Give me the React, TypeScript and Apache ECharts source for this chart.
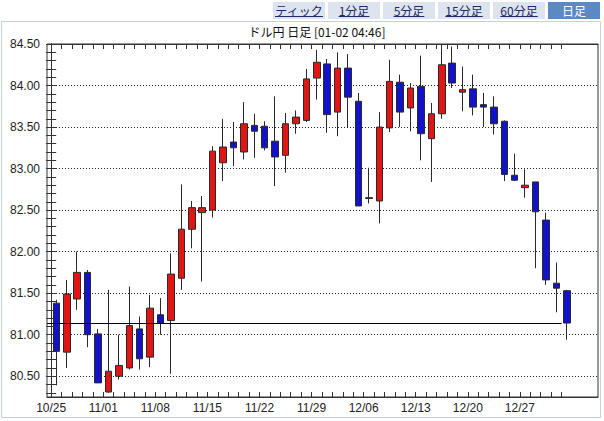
import React, { useEffect, useRef } from 'react';
import * as echarts from 'echarts';

const dates = ['10/25','10/26','10/27','10/28','10/29','11/01','11/02','11/03','11/04','11/05','11/08','11/09','11/10','11/11','11/12','11/15','11/16','11/17','11/18','11/19','11/22','11/23','11/24','11/25','11/26','11/29','11/30','12/01','12/02','12/03','12/06','12/07','12/08','12/09','12/10','12/13','12/14','12/15','12/16','12/17','12/20','12/21','12/22','12/23','12/24','12/27','12/28','12/29','12/30','12/31'];
const opens = [81.38,80.79,81.43,81.75,81.01,80.31,80.50,80.60,81.07,80.73,81.24,81.17,81.68,82.27,82.47,82.50,83.07,83.32,83.20,83.52,83.51,83.33,83.16,83.54,83.58,84.09,84.26,83.68,84.21,83.81,82.64,82.61,83.49,84.04,83.73,83.99,83.36,83.66,84.27,83.92,83.96,83.77,83.74,83.57,82.92,82.77,82.84,82.38,81.62,81.53];
const closes = [80.80,81.49,81.75,81.00,80.42,80.56,80.63,81.11,80.71,81.32,81.14,81.73,82.27,82.53,82.53,83.21,83.26,83.25,83.54,83.45,83.25,83.14,83.54,83.62,84.08,84.28,83.65,84.21,83.86,82.55,82.65,83.50,84.05,83.68,83.97,83.42,83.66,84.25,84.03,83.95,83.74,83.74,83.54,82.93,82.86,82.80,82.48,81.66,81.56,81.14];
const lows = [80.39,80.60,81.30,80.85,80.42,80.30,80.46,80.58,80.58,80.61,81.00,80.53,81.54,82.04,81.64,82.41,82.85,83.03,83.11,83.13,83.22,82.79,82.95,83.42,83.56,83.83,83.43,83.39,83.50,82.55,82.58,82.34,83.44,83.50,83.45,83.10,82.84,83.60,83.97,83.69,83.64,83.50,83.41,82.85,82.85,82.65,81.80,81.60,81.27,80.94];
const highs = [81.42,81.66,82.00,81.78,81.07,81.54,81.00,81.58,81.22,81.48,81.44,81.98,82.81,82.61,82.67,83.27,83.60,83.56,83.80,83.66,83.57,83.87,83.67,83.70,84.20,84.43,84.32,84.40,84.38,83.91,83.01,83.68,84.31,84.13,84.03,84.36,83.79,84.50,84.47,84.23,84.13,83.91,83.87,83.58,83.18,82.99,82.84,82.47,81.87,81.54];

const yLabelValues = [80.5, 81.0, 81.5, 82.0, 82.5, 83.0, 83.5, 84.0, 84.5];
const yMin = 80.25;
const yMax = 84.5;
const minorPerMajor = 5;
const xMin = -0.4;
const xMax = 52.5;
const labelEvery = 5;

const tabs = ['ティック', '1分足', '5分足', '15分足', '60分足', '日足'];
const selectedTab = 5;
const title = 'ドル円 日足 [01-02 04:46]';

const JP = '"Noto Sans CJK JP", sans-serif';
const LAT = '"Liberation Sans", Arial, sans-serif';

export default function App() {
  const ref = useRef<HTMLDivElement>(null);

  useEffect(() => {
    document.body.style.margin = '0';
    const chart = echarts.init(ref.current!, null, { renderer: 'svg' });

    const step = (yLabelValues[1] - yLabelValues[0]) / minorPerMajor;
    const minorTicks: number[] = [];
    for (let k = Math.ceil(yMin / step - 1e-9); k * step <= yMax + 1e-9; k++) {
      minorTicks.push(Math.round(k * step * 100) / 100);
    }
    const gridVals = yLabelValues.filter((v) => v < yMax);
    const xTicks = dates.map((_, i) => i);
    const xLabels = xTicks.filter((i) => i % labelEvery === 0);
    const candleData = dates.map((_, i) => [i + 0.5, opens[i], closes[i], lows[i], highs[i]]);
    const last = closes[closes.length - 1];
    const lastIdx = closes.length - 1;

    const canvas = document.createElement('canvas');
    const ctx = canvas.getContext('2d')!;
    ctx.font = '12px "Noto Sans CJK JP"';

    const tabX0 = 273, tabW = 52, tabGap = 3, tabY = 2, tabH = 17;
    const tabGraphics: any[] = [];
    tabs.forEach((t, i) => {
      const x = tabX0 + i * (tabW + tabGap);
      const sel = i === selectedTab;
      tabGraphics.push({
        type: 'rect', shape: { x, y: tabY, width: tabW, height: tabH },
        style: { fill: sel ? '#5b89c4' : '#dde4ed' }, silent: true,
      });
      tabGraphics.push({
        type: 'text', x: x + tabW / 2, y: tabY + tabH / 2,
        style: { text: t, fill: sel ? '#ffffff' : '#1b2b6b', font: `12px ${JP}`, align: 'center', verticalAlign: 'middle' },
        silent: true,
      });
      if (!sel) {
        const w = ctx.measureText(t).width;
        tabGraphics.push({
          type: 'line', shape: { x1: x + tabW / 2 - w / 2, y1: 16.5, x2: x + tabW / 2 + w / 2, y2: 16.5 },
          style: { stroke: '#1b2b6b', lineWidth: 1 }, silent: true,
        });
      }
    });

    const axisColor = '#333';
    const option: any = {
      animation: false,
      backgroundColor: '#ffffff',
      textStyle: { fontFamily: LAT },
      graphic: [
        {
          type: 'rect', shape: { x: 1.5, y: 21.5, width: 599, height: 396 },
          style: { fill: 'none', stroke: '#c5d0dc', lineWidth: 1 }, silent: true, z: -1,
        },
        ...tabGraphics,
        {
          type: 'text', x: 317, y: 31,
          style: { text: title, fill: '#111', font: `12px ${JP}`, align: 'center', verticalAlign: 'middle' },
          silent: true,
        },
      ],
      grid: { left: 47, right: 6, top: 44, bottom: 24, show: true, borderColor: axisColor, borderWidth: 1, backgroundColor: '#fff' },
      xAxis: [
        {
          type: 'value', position: 'bottom', min: xMin, max: xMax,
          axisLine: { show: true, lineStyle: { color: axisColor } },
          axisTick: { show: true, inside: true, length: 5, customValues: xTicks, lineStyle: { color: axisColor } },
          axisLabel: { customValues: xLabels, formatter: (v: number) => dates[Math.round(v)], color: '#222', fontSize: 12, margin: 5, fontFamily: LAT },
          splitLine: { show: false },
        },
        {
          type: 'value', position: 'top', min: xMin, max: xMax,
          axisLine: { show: true, lineStyle: { color: axisColor } },
          axisTick: { show: true, inside: true, length: 5, customValues: xTicks, lineStyle: { color: axisColor } },
          axisLabel: { show: false },
          splitLine: { show: false },
        },
      ],
      yAxis: [
        {
          type: 'value', position: 'left', min: yMin, max: yMax,
          axisLine: { show: true, lineStyle: { color: axisColor } },
          axisTick: { show: true, inside: true, length: 5, customValues: minorTicks, lineStyle: { color: axisColor } },
          axisLabel: { customValues: yLabelValues, formatter: (v: number) => v.toFixed(2), color: '#222', fontSize: 12, margin: 7, fontFamily: LAT },
          splitLine: { show: false },
        },
        {
          type: 'value', position: 'right', min: yMin, max: yMax,
          axisLine: { show: true, lineStyle: { color: axisColor } },
          axisTick: { show: true, inside: true, length: 5, customValues: minorTicks, lineStyle: { color: axisColor } },
          axisLabel: { show: false },
          splitLine: { show: false },
        },
        {
          type: 'value', position: 'left', min: yMin, max: yMax,
          axisLine: { show: false },
          axisTick: { show: false, customValues: gridVals },
          axisLabel: { show: false, customValues: gridVals },
          splitLine: { show: true, lineStyle: { color: '#222', type: [1, 2], width: 1 } },
        },
      ],
      series: [
        {
          type: 'candlestick',
          xAxisIndex: 0,
          yAxisIndex: 0,
          encode: { x: 0, y: [1, 2, 3, 4] },
          barWidth: 7,
          data: candleData,
          itemStyle: {
            color: '#e01515',
            color0: '#1212c8',
            borderColor: '#2a2a2a',
            borderColor0: '#2a2a2a',
            borderWidth: 1,
          },
          markLine: {
            silent: true,
            symbol: ['none', 'none'],
            label: { show: false },
            lineStyle: { color: '#000', width: 1, type: 'solid' },
            data: [[{ coord: [xMin, last] }, { coord: [lastIdx, last] }]],
          },
        },
      ],
    };

    chart.setOption(option);
    return () => chart.dispose();
  }, []);

  return <div ref={ref} style={{ position: 'fixed', left: 0, top: 0, width: 604, height: 421, background: '#fff' }} />;
}
